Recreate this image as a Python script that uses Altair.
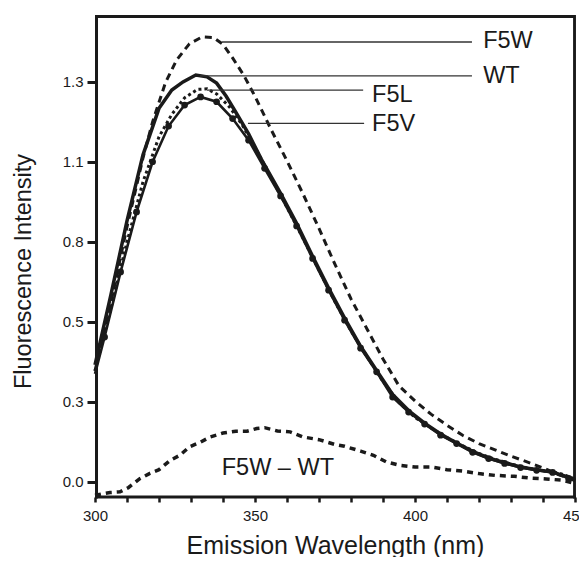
import altair as alt
import pandas as pd

# ---------------- data ----------------
WT_nm = [300, 305, 310, 315, 320, 324, 327.5, 331.5, 335, 338, 341, 344, 348, 352, 358, 363, 368,
         373, 378, 383, 388, 393, 398, 403, 408, 413, 418, 423, 428, 433, 438, 443, 448, 450]
WT = [0.39, 0.625, 0.87, 1.09, 1.245, 1.306, 1.333, 1.356, 1.350, 1.329, 1.285, 1.232, 1.160, 1.075,
      0.962, 0.862, 0.752, 0.646, 0.546, 0.452, 0.372, 0.292, 0.238, 0.196, 0.160, 0.130, 0.102,
      0.080, 0.064, 0.050, 0.041, 0.033, 0.016, 0.008]

F5V_nm = [300, 303, 308, 313, 318, 323, 328, 333, 338, 343, 348, 353, 358, 363, 368, 373, 378, 383,
          388, 393, 398, 403, 408, 413, 418, 423, 428, 433, 438, 443, 448, 450]
F5V = [0.36, 0.483, 0.70, 0.90, 1.067, 1.186, 1.256, 1.283, 1.267, 1.211, 1.139, 1.045, 0.953, 0.853,
       0.745, 0.639, 0.539, 0.446, 0.367, 0.283, 0.233, 0.193, 0.156, 0.128, 0.099, 0.078, 0.062,
       0.048, 0.039, 0.032, 0.012, 0.005]

F5L_nm = [300, 305, 310, 315, 320, 324, 328, 332, 335, 338, 342, 346, 350, 355, 360, 365, 370, 375,
          380, 385, 390, 395, 400, 405, 410, 415, 420, 425, 430, 435, 440, 445, 450]
F5L = [0.37, 0.58, 0.80, 1.00, 1.15, 1.225, 1.28, 1.308, 1.31, 1.293, 1.25, 1.19, 1.115, 1.015, 0.915,
       0.812, 0.705, 0.60, 0.503, 0.418, 0.335, 0.265, 0.215, 0.18, 0.148, 0.12, 0.095, 0.076, 0.06,
       0.047, 0.038, 0.030, 0.010]

F5W_nm = [300, 305, 310, 315, 318, 322, 325.5, 329.5, 333.5, 337, 340, 343, 346.5, 350, 355, 360, 365,
          370, 375, 380, 385, 390, 395, 400, 405, 410, 415, 420, 425, 430, 435, 440, 445, 450]
F5W = [0.37, 0.60, 0.85, 1.08, 1.20, 1.33, 1.406, 1.46, 1.483, 1.481, 1.458, 1.413, 1.355, 1.285,
       1.175, 1.07, 0.96, 0.845, 0.725, 0.61, 0.51, 0.41, 0.32, 0.27, 0.226, 0.189, 0.155, 0.128,
       0.107, 0.086, 0.067, 0.047, 0.024, 0.005]

DIFF_nm = [300, 304.7, 307.8, 310.4, 314, 317, 320, 323.5, 326.5, 329.5, 333, 336, 340, 344, 347.5,
           350.5, 353, 357, 361, 365, 370, 375, 378, 383, 387, 391, 395, 400, 405, 410, 415, 420, 425,
           431, 436, 441, 446, 450]
DIFF = [-0.044, -0.035, -0.033, -0.019, 0.011, 0.028, 0.041, 0.072, 0.089, 0.117, 0.133, 0.150, 0.163,
        0.169, 0.169, 0.178, 0.181, 0.170, 0.167, 0.150, 0.141, 0.125, 0.119, 0.103, 0.089, 0.067,
        0.056, 0.050, 0.050, 0.041, 0.036, 0.028, 0.022, 0.019, 0.013, 0.010, 0.006, -0.005]

# labels with leader lines
LEADER_from = [339.7, 332.8, 335.0, 347.8]
LEADER_to = [417.8, 417.8, 383.8, 384.1]
LEADER_I = [1.466, 1.353, 1.306, 1.195]
LABELS = ["F5W", "WT", "F5L", "F5V", "F5W – WT"]
LABEL_nm = [421.3, 421.3, 386.6, 386.6, 339.6]
LABEL_I = [1.469, 1.352, 1.289, 1.192, 0.046]

Y_TICKS = [0, 4 / 15, 8 / 15, 12 / 15, 16 / 15, 20 / 15]
X_TICKS = list(range(300, 451, 10))
X_DOMAIN = [300, 450]
Y_DOMAIN = [-0.05, 1.556]

# frame bands around the plot area (top, left, right, bottom)
FRAME_x1 = [300, 300, 449.4, 300]
FRAME_x2 = [450, 300.94, 450.3, 450.3]
FRAME_y1 = [1.546, -0.055, -0.055, -0.055]
FRAME_y2 = [1.556, 1.556, 1.556, -0.045]

FONT = "Liberation Sans"
INK = "#1a1a1a"
W, H = 480, 482

def df(nm, vals):
    return pd.DataFrame({"nm": nm, "I": vals})

xs = alt.Scale(domain=X_DOMAIN, nice=False, zero=False)
ys = alt.Scale(domain=Y_DOMAIN, nice=False, zero=False)

xaxis = alt.Axis(values=X_TICKS, format="d",
                 labelExpr="datum.value % 50 === 0 ? datum.label : ''",
                 labelFlush=False, labelOverlap=False,
                 tickSize=5, tickWidth=2.5, tickColor=INK, domain=False, grid=False,
                 labelFontSize=15, labelFont=FONT, labelColor=INK, labelPadding=6,
                 title="Emission Wavelength (nm)", titleFontSize=25, titleFont=FONT,
                 titleFontWeight="normal", titleColor=INK, titlePadding=10)
yaxis = alt.Axis(values=Y_TICKS, format=".1f", labelFlush=False, labelOverlap=False,
                 tickSize=8, tickWidth=3, tickColor=INK, domain=False, grid=False,
                 labelFontSize=15, labelFont=FONT, labelColor=INK, labelPadding=4,
                 title="Fluorescence Intensity", titleFontSize=23.5, titleFont=FONT,
                 titleFontWeight="normal", titleColor=INK, titlePadding=27, titleY=256)

X = alt.X("nm:Q", scale=xs, axis=xaxis)
Y = alt.Y("I:Q", scale=ys, axis=yaxis)

frame = alt.Chart(pd.DataFrame({"nm": FRAME_x1, "nm2": FRAME_x2, "I": FRAME_y1, "I2": FRAME_y2})
                  ).mark_rect(color=INK, opacity=1).encode(x=X, x2="nm2:Q", y=Y, y2="I2:Q")

wt = alt.Chart(df(WT_nm, WT)).mark_line(color=INK, strokeWidth=3.5).encode(x=X, y=Y, order="nm:Q")
f5v = alt.Chart(df(F5V_nm, F5V)).mark_line(color=INK, strokeWidth=2.6).encode(x=X, y=Y, order="nm:Q")
f5v_pts = alt.Chart(df(F5V_nm, F5V)).transform_filter(
    "datum.nm > 300 && datum.nm < 450").mark_circle(color=INK, size=45, opacity=1).encode(x=X, y=Y)
f5l = alt.Chart(df(F5L_nm, F5L)).mark_line(color=INK, strokeWidth=3, strokeDash=[3, 3]).encode(
    x=X, y=Y, order="nm:Q")
f5w = alt.Chart(df(F5W_nm, F5W)).mark_line(color=INK, strokeWidth=3, strokeDash=[7, 5]).encode(
    x=X, y=Y, order="nm:Q")
diff = alt.Chart(df(DIFF_nm, DIFF)).mark_line(color=INK, strokeWidth=3.5, strokeDash=[6, 5]).encode(
    x=X, y=Y, order="nm:Q")

leaders = alt.Chart(pd.DataFrame({"nm": LEADER_from, "nm2": LEADER_to, "I": LEADER_I})).mark_rule(
    color="#333333", strokeWidth=1.3).encode(x=X, x2="nm2:Q", y=Y)

labels = alt.Chart(pd.DataFrame({"nm": LABEL_nm, "I": LABEL_I, "t": LABELS})).mark_text(
    align="left", baseline="middle", font=FONT, fontSize=23.5, color=INK).encode(x=X, y=Y, text="t:N")

chart = alt.layer(frame, f5w, f5l, wt, f5v, f5v_pts, diff, leaders, labels).properties(
    width=W, height=H,
    background="white",
    autosize=alt.AutoSizeParams(type="none"),
    padding={"left": 87, "top": 7, "right": 4, "bottom": 60},
).configure_view(strokeWidth=0)

chart.save("out.html", embed_options={"renderer": "svg", "actions": False})
